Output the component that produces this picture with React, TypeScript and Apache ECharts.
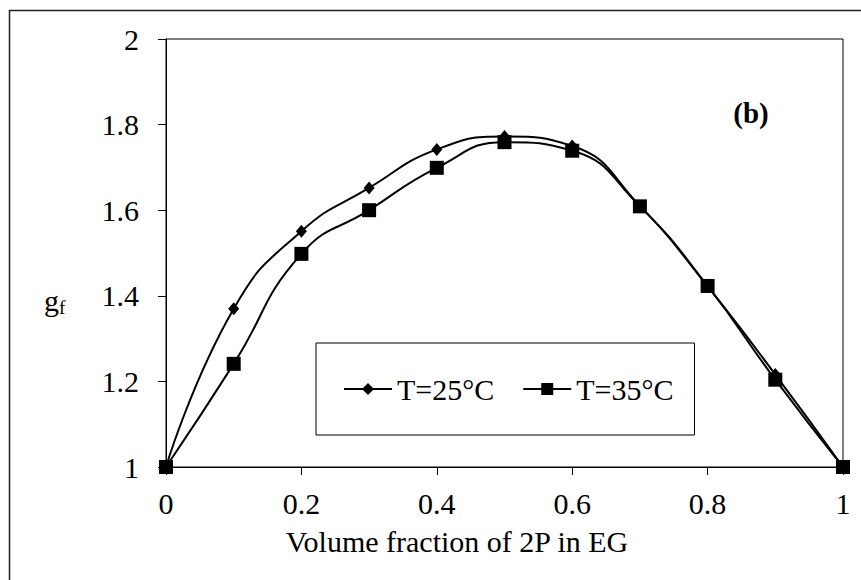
import React, { useEffect, useRef } from "react";
import * as echarts from "echarts";

const xValues = [0, 0.1, 0.2, 0.3, 0.4, 0.5, 0.6, 0.7, 0.8, 0.9, 1];
const gf25 = [1, 1.37, 1.551, 1.652, 1.742, 1.772, 1.75, 1.61, 1.422, 1.216, 1];
const gf35 = [1, 1.241, 1.498, 1.6, 1.699, 1.759, 1.739, 1.609, 1.423, 1.204, 1];
const seriesNames = ["T=25°C", "T=35°C"];
const xTickLabels = ["0", "0.2", "0.4", "0.6", "0.8", "1"];
const yTickLabels = ["1", "1.2", "1.4", "1.6", "1.8", "2"];
const xAxisTitle = "Volume fraction of 2P in EG";

const FONT = "'Liberation Serif', 'Times New Roman', serif";

export default function App() {
  const ref = useRef<HTMLDivElement>(null);
  useEffect(() => {
    document.body.style.margin = "0";
    if (!ref.current) return;
    const chart = echarts.init(ref.current, undefined, { renderer: "svg" });
    const pair = (ys: number[]) => xValues.map((x, i) => [x, ys[i]]);
    chart.setOption({
      animation: false,
      backgroundColor: "#ffffff",
      textStyle: { fontFamily: FONT, color: "#000" },
      grid: {
        left: 166,
        top: 39,
        right: 18,
        bottom: 113,
        show: true,
        borderColor: "#000",
        borderWidth: 1,
        containLabel: false,
      },
      xAxis: {
        type: "value",
        min: 0,
        max: 1,
        interval: 0.2,
        axisLine: { lineStyle: { color: "#000", width: 1 } },
        axisTick: { inside: false, length: 8, lineStyle: { color: "#000" } },
        axisLabel: {
          margin: 21,
          fontFamily: FONT,
          fontSize: 30,
          color: "#000",
          formatter: (v: number) => xTickLabels[Math.round(v / 0.2)] ?? String(v),
        },
        splitLine: { show: false },
      },
      yAxis: {
        type: "value",
        min: 1,
        max: 2,
        interval: 0.2,
        axisLine: { show: true, lineStyle: { color: "#000", width: 1 } },
        axisTick: { show: true, inside: false, length: 8, lineStyle: { color: "#000" } },
        axisLabel: {
          margin: 27,
          fontFamily: FONT,
          fontSize: 30,
          color: "#000",
          formatter: (v: number) => yTickLabels[Math.round((v - 1) / 0.2)] ?? String(v),
        },
        splitLine: { show: false },
      },
      legend: {
        left: 316,
        top: 343,
        orient: "horizontal",
        itemWidth: 48,
        itemHeight: 15,
        itemGap: 28,
        padding: [31, 21, 31, 27],
        borderColor: "#000",
        borderWidth: 1,
        textStyle: { fontFamily: FONT, fontSize: 30, color: "#000" },
        data: seriesNames,
      },
      series: [
        {
          name: seriesNames[0],
          type: "line",
          data: pair(gf25),
          smooth: 0.5,
          symbol: "diamond",
          symbolSize: [11, 13],
          itemStyle: { color: "#000" },
          lineStyle: { color: "#000", width: 2 },
          z: 3,
        },
        {
          name: seriesNames[1],
          type: "line",
          data: pair(gf35),
          smooth: 0.5,
          symbol: "rect",
          symbolSize: 14,
          itemStyle: { color: "#000" },
          lineStyle: { color: "#000", width: 2 },
          z: 4,
        },
      ],
      graphic: [
        {
          type: "rect",
          shape: { x: 9.5, y: 10.5, width: 900, height: 600 },
          style: { fill: "none", stroke: "#222", lineWidth: 1.5 },
          silent: true,
        },
        {
          type: "text",
          x: 457,
          y: 541,
          style: {
            text: xAxisTitle,
            fontFamily: FONT,
            fontSize: 30,
            fill: "#000",
            align: "center",
            verticalAlign: "middle",
          },
        },
        {
          type: "text",
          x: 751,
          y: 113,
          style: {
            text: "(b)",
            fontFamily: FONT,
            fontSize: 29,
            fontWeight: "bold",
            fill: "#000",
            align: "center",
            verticalAlign: "middle",
          },
        },
        {
          type: "text",
          x: 44,
          y: 300,
          style: {
            text: "{g|g}{f|f}",
            fontFamily: FONT,
            fill: "#000",
            verticalAlign: "middle",
            rich: {
              g: { fontFamily: FONT, fontSize: 30, fill: "#000" },
              f: { fontFamily: FONT, fontSize: 19, fill: "#000", padding: [15, 0, 0, 0] },
            },
          },
        },
      ],
    });
    return () => chart.dispose();
  }, []);
  return <div ref={ref} style={{ width: 861, height: 580 }} />;
}
